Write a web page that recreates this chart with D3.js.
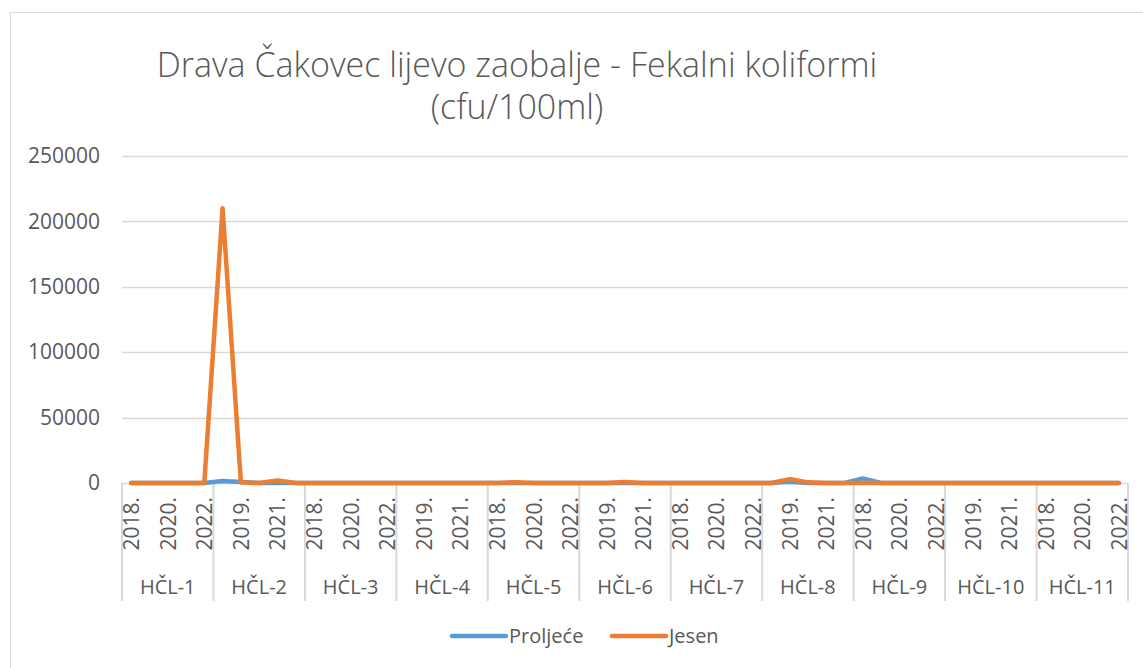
<!DOCTYPE html>
<html>
<head>
<meta charset="utf-8">
<script src="https://cdn.jsdelivr.net/npm/d3@7"></script>
<style>
  body { margin: 0; background: #fff; }
  text { font-family: "Open Sans", sans-serif; fill: #595959; }
</style>
</head>
<body>
<div id="chart"></div>
<script>
// Chart data
var groups = ["HČL-1", "HČL-2", "HČL-3", "HČL-4", "HČL-5", "HČL-6", "HČL-7", "HČL-8", "HČL-9", "HČL-10", "HČL-11"];
var years = ["2018.", "2019.", "2020.", "2021.", "2022."];
var yTicks = [0, 50000, 100000, 150000, 200000, 250000];

// 5 values per group (2018..2022)
var proljece = [
  0, 0, 0, 0, 0,
  1500, 800, 0, 0, 0,
  0, 0, 0, 0, 0,
  0, 0, 0, 0, 0,
  0, 0, 0, 0, 0,
  0, 0, 0, 0, 0,
  0, 0, 0, 0, 0,
  0, 1000, 0, 0, 0,
  3500, 0, 0, 0, 0,
  0, 0, 0, 0, 0,
  0, 0, 0, 0, 0
];
var jesen = [
  0, 0, 0, 0, 0,
  210000, 500, 0, 2000, 0,
  0, 0, 0, 0, 0,
  0, 0, 0, 0, 0,
  0, 500, 0, 0, 0,
  0, 0, 800, 0, 0,
  0, 0, 0, 0, 0,
  0, 3000, 500, 0, 0,
  0, 0, 0, 0, 0,
  0, 0, 0, 0, 0,
  0, 0, 0, 0, 0
];

var svgWidth = 1143;
var svgHeight = 668;

var chartMargin = { top: 156, right: 15, bottom: 185, left: 122 };
var width = 1128 - chartMargin.left;
var height = 483 - chartMargin.top;

var svg = d3.select("#chart").append("svg")
    .attr("width", svgWidth)
    .attr("height", svgHeight);

// outer chart border
svg.append("rect")
    .attr("x", 10.5).attr("y", 12.5)
    .attr("width", 1140).attr("height", 670)
    .attr("fill", "#fff")
    .attr("stroke", "#d9d9d9");

// flat category list
var cats = [];
groups.forEach(function(g) {
  years.forEach(function(y) { cats.push({ group: g, year: y }); });
});
cats.forEach(function(c, i) { c.p = proljece[i]; c.j = jesen[i]; c.key = i; });

var x = d3.scaleBand()
    .domain(cats.map(d => d.key))
    .range([0, width])
    .padding(0);

var y = d3.scaleLinear()
    .domain([0, 250000])
    .range([height, 0]);

var chartGroup = svg.append("g")
    .attr("transform", `translate(${chartMargin.left}, ${chartMargin.top})`);

// gridlines
chartGroup.selectAll(".grid")
    .data(yTicks.slice(1))
    .enter()
    .append("line")
    .attr("x1", 0).attr("x2", width)
    .attr("y1", d => Math.round(y(d)) + 0.5)
    .attr("y2", d => Math.round(y(d)) + 0.5)
    .attr("stroke", "#d9d9d9")
    .attr("stroke-width", 1.5);

// y axis labels
var leftAxis = d3.axisLeft(y).tickValues(yTicks).tickSize(0).tickPadding(22).tickFormat(d3.format("d"));
var yAxisG = chartGroup.append("g").call(leftAxis);
yAxisG.select(".domain").remove();
yAxisG.selectAll("text")
    .style("font-size", "21px")
    .attr("fill", "#595959");

// category axis
var axisG = chartGroup.append("g").attr("transform", `translate(0, ${height})`);
axisG.append("line")
    .attr("x1", 0).attr("x2", width)
    .attr("y1", 0.5).attr("y2", 0.5)
    .attr("stroke", "#d9d9d9").attr("stroke-width", 1.5);

// group separators
var bounds = d3.range(groups.length + 1).map(i => i * 5);
axisG.selectAll(".sep")
    .data(bounds)
    .enter()
    .append("line")
    .attr("x1", d => d < cats.length ? x(d) : width)
    .attr("x2", d => d < cats.length ? x(d) : width)
    .attr("y1", 0).attr("y2", 118)
    .attr("stroke", "#d9d9d9")
    .attr("stroke-width", 2);

// year labels, every second category
axisG.selectAll(".yr")
    .data(cats.filter((d, i) => i % 2 === 0))
    .enter()
    .append("text")
    .attr("transform", d => `translate(${x(d.key) + x.bandwidth() / 2 + 8}, 14) rotate(-90)`)
    .attr("text-anchor", "end")
    .style("font-size", "21px")
    .text(d => d.year);

// group labels
axisG.selectAll(".grp")
    .data(groups)
    .enter()
    .append("text")
    .attr("x", (d, i) => x(i * 5) + x.bandwidth() * 2.5)
    .attr("y", 111)
    .attr("text-anchor", "middle")
    .style("font-size", "20px")
    .text(d => d);

// lines
var lineP = d3.line()
    .x(d => x(d.key) + x.bandwidth() / 2)
    .y(d => y(d.p));
var lineJ = d3.line()
    .x(d => x(d.key) + x.bandwidth() / 2)
    .y(d => y(d.j));

chartGroup.append("path")
    .datum(cats)
    .attr("d", lineP)
    .attr("fill", "none")
    .attr("stroke", "#5b9bd5")
    .attr("stroke-width", 4.5)
    .attr("stroke-linejoin", "round")
    .attr("stroke-linecap", "round");

chartGroup.append("path")
    .datum(cats)
    .attr("d", lineJ)
    .attr("fill", "none")
    .attr("stroke", "#ed7d31")
    .attr("stroke-width", 4.5)
    .attr("stroke-linejoin", "round")
    .attr("stroke-linecap", "round");

// title
svg.append("text")
    .attr("x", 517).attr("y", 77)
    .attr("text-anchor", "middle")
    .style("font-size", "34px")
    .style("font-weight", 300)
    .text("Drava Čakovec lijevo zaobalje - Fekalni koliformi");
svg.append("text")
    .attr("x", 517).attr("y", 119)
    .attr("text-anchor", "middle")
    .style("font-size", "34px")
    .style("font-weight", 300)
    .text("(cfu/100ml)");

// legend
var legendItems = [
  { name: "Proljeće", color: "#5b9bd5", x: 452 },
  { name: "Jesen", color: "#ed7d31", x: 612 }
];
var legend = svg.selectAll(".legend")
    .data(legendItems)
    .enter()
    .append("g")
    .attr("transform", d => `translate(${d.x}, 636)`);
legend.append("line")
    .attr("x1", 0).attr("x2", 54)
    .attr("y1", 0).attr("y2", 0)
    .attr("stroke", d => d.color)
    .attr("stroke-width", 4.5)
    .attr("stroke-linecap", "round");
legend.append("text")
    .attr("x", 57).attr("y", 7)
    .style("font-size", "20px")
    .text(d => d.name);
</script>
</body>
</html>
